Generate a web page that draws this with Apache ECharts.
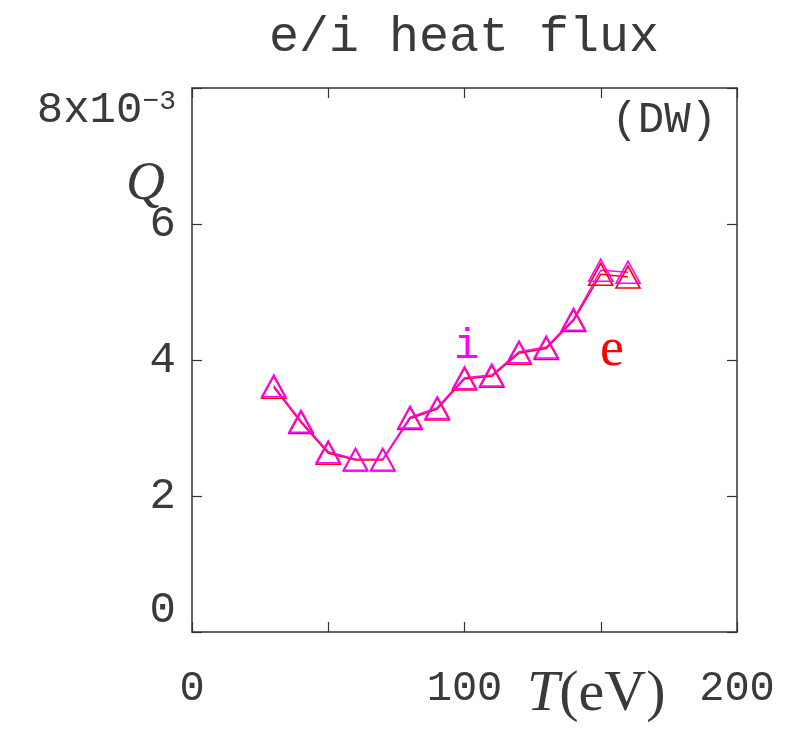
<!DOCTYPE html>
<html>
<head>
<meta charset="utf-8">
<script src="https://cdn.jsdelivr.net/npm/echarts@6/dist/echarts.min.js"></script>
<style>
  html, body { margin: 0; padding: 0; background: #fff; }
  #chart { width: 787px; height: 736px; }
</style>
</head>
<body>
<div id="chart"></div>
<script>
// temperature T (eV)
const temps = [30, 40, 50, 60, 70, 80, 90, 100, 110, 120, 130, 140, 150, 160];
// heat flux Q, in units of 1e-3
const qElectron = [3.60, 3.08, 2.63, 2.53, 2.53, 3.14, 3.28, 3.72, 3.76, 4.10, 4.17, 4.58, 5.26, 5.22];
const qIon      = [3.62, 3.10, 2.65, 2.54, 2.54, 3.16, 3.30, 3.74, 3.78, 4.12, 4.19, 4.60, 5.32, 5.29];
const xTickLabels = { 0: '0', 100: '100', 200: '200' };
const yTickLabels = { 0: '0', 2: '2', 4: '4', 6: '6', 8: '8x10' };

const dom = document.getElementById('chart');
const chart = echarts.init(dom, null, { renderer: 'canvas' });

const frame = { onZero: false, lineStyle: { color: '#333', width: 1.5 } };
const tickIn = { show: true, inside: true, length: 10, lineStyle: { color: '#333', width: 1.2 } };
const mono = 'Liberation Mono';
const ink = '#3a3a3a';

function pairs(ys) {
    return temps.map((t, i) => [t, ys[i]]);
}

function lineSeries(name, ys, color) {
    return {
        name,
        type: 'line',
        data: pairs(ys),
        symbol: 'triangle',
        symbolSize: [24, 22],
        showSymbol: true,
        lineStyle: { color, width: 1.5 },
        itemStyle: { color: 'rgba(0,0,0,0)', borderColor: color, borderWidth: 1.6 },
        emphasis: { disabled: true },
        animation: false
    };
}

const option = {
    backgroundColor: '#fff',
    animation: false,
    title: {
        text: 'e/i heat flux',
        left: 264,
        top: 8,
        textStyle: { fontFamily: mono, fontSize: 50, fontWeight: 'normal', color: ink }
    },
    grid: { left: 192, top: 88, width: 545, height: 544, containLabel: false },
    xAxis: [
        {
            type: 'value', min: 0, max: 200, interval: 50,
            axisLine: frame, axisTick: tickIn, splitLine: { show: false },
            axisLabel: {
                margin: 36,
                fontFamily: mono, fontSize: 42, color: ink,
                formatter: v => xTickLabels[v] || ''
            }
        },
        {
            type: 'value', position: 'top', min: 0, max: 200, interval: 50,
            axisLine: frame, axisTick: tickIn, splitLine: { show: false },
            axisLabel: { show: false }
        }
    ],
    yAxis: [
        {
            type: 'value', min: 0, max: 8, interval: 2,
            axisLine: frame, axisTick: tickIn, splitLine: { show: false },
            axisLabel: {
                margin: 16,
                fontFamily: mono, fontSize: 44, color: ink,
                verticalAlignMinLabel: 'bottom',
                verticalAlignMaxLabel: 'top',
                formatter: v => v === 8 ? '{b|8x10}{s|−3}' : (yTickLabels[v] || ''),
                rich: {
                    b: { fontFamily: mono, fontSize: 44, color: ink, verticalAlign: 'bottom' },
                    s: { fontFamily: mono, fontSize: 28, color: ink, verticalAlign: 'top', padding: [0, 0, 16, 0] }
                }
            }
        },
        {
            type: 'value', position: 'right', min: 0, max: 8, interval: 2,
            axisLine: frame, axisTick: tickIn, splitLine: { show: false },
            axisLabel: { show: false }
        }
    ],
    graphic: [
        { type: 'text', left: 126, top: 158, style: { text: 'Q', font: 'italic 54px "Liberation Serif"', fill: ink } },
        {
            type: 'text', left: 527, top: 666,
            style: {
                text: '{it|T}(eV)',
                font: '58px "Liberation Serif"', fill: ink,
                rich: { it: { fontStyle: 'italic', fontFamily: 'Liberation Serif', fontSize: 58 } }
            }
        },
        { type: 'text', right: 70, top: 98, style: { text: '(DW)', font: '44px "Liberation Mono"', fill: ink } },
        { type: 'text', left: 454, top: 326, style: { text: 'i', font: '42px "Liberation Mono"', fill: '#ff00ff' } },
        { type: 'text', left: 600, top: 324, style: { text: 'e', font: '54px "Liberation Serif"', fill: '#ff0000' } }
    ],
    series: [
        lineSeries('e', qElectron, '#ff0000'),
        lineSeries('i', qIon, '#ff00ff')
    ]
};
chart.setOption(option);
</script>
</body>
</html>
